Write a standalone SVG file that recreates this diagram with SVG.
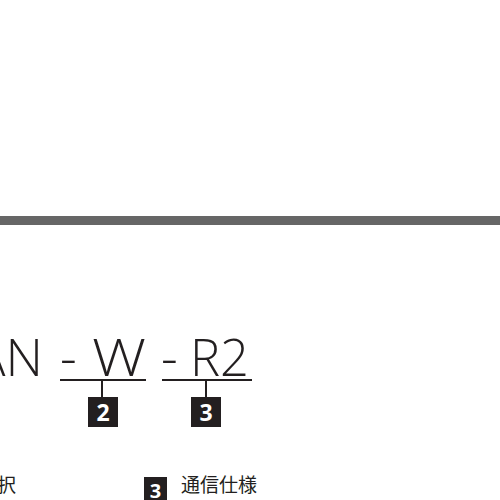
<svg xmlns="http://www.w3.org/2000/svg" width="500" height="500" viewBox="0 0 500 500">
<style>
.big{font-family:"Open Sans","Liberation Sans",sans-serif;font-weight:300;font-size:52px;fill:#231f20}
.num{font-family:"Open Sans","Liberation Sans",sans-serif;font-weight:700;font-size:23px;fill:#fff;text-anchor:middle}
.jp{font-family:"Noto Sans CJK JP",sans-serif;font-size:19px;fill:#231f20}
.box{fill:#231f20}
.ln{stroke:#231f20;stroke-width:2;fill:none}
</style>
<rect x="0" y="216" width="500" height="9" fill="#666"/>
<g id="code">
<text class="big" x="43" y="376" text-anchor="end">AN</text>
<text class="big" x="60" y="376">-</text>
<text class="big" x="92" y="376" textLength="54" lengthAdjust="spacingAndGlyphs">W</text>
<text class="big" x="161" y="376">-</text>
<text class="big" x="190" y="376" textLength="59" lengthAdjust="spacingAndGlyphs">R2</text>
</g>
<g id="connectors">
<line class="ln" x1="60" y1="380" x2="146" y2="380"/>
<line class="ln" x1="102" y1="380" x2="102" y2="397"/>
<line class="ln" x1="162" y1="380" x2="252" y2="380"/>
<line class="ln" x1="206" y1="380" x2="206" y2="397"/>
</g>
<g id="node2">
<rect class="box" x="88" y="397" width="30" height="30"/>
<text class="num" x="103" y="421">2</text>
</g>
<g id="node3">
<rect class="box" x="191" y="397" width="30" height="30"/>
<text class="num" x="206" y="421">3</text>
</g>
<g id="legend">
<text class="jp" x="16" y="492" text-anchor="end">択</text>
<rect class="box" x="144" y="477" width="23" height="25"/>
<text class="num" x="155.5" y="498" style="font-size:20px">3</text>
<text class="jp" x="181" y="492">通信仕様</text>
</g>
</svg>
